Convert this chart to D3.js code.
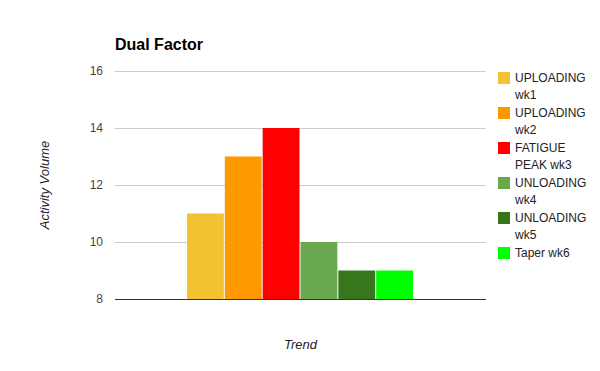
<!DOCTYPE html>
<html lang="en">
<head>
    <meta charset="UTF-8">
    <script src="https://cdnjs.cloudflare.com/ajax/libs/d3/7.8.5/d3.min.js"></script>
    <style>
        body { margin: 0; background: #fff; }
        text { font-family: Arial, "Liberation Sans", sans-serif; }
    </style>
</head>
<body>
<svg id="chart" width="600" height="371"></svg>
<script>
    const series = ['UPLOADING wk1', 'UPLOADING wk2', 'FATIGUE PEAK wk3', 'UNLOADING wk4', 'UNLOADING wk5', 'Taper wk6'];
    const values = [11, 13, 14, 10, 9, 9];
    const colors = ['#f1c232', '#ff9900', '#ff0000', '#6aa84f', '#38761d', '#00ff00'];
    const legendLines = [['UPLOADING', 'wk1'], ['UPLOADING', 'wk2'], ['FATIGUE', 'PEAK wk3'], ['UNLOADING', 'wk4'], ['UNLOADING', 'wk5'], ['Taper wk6']];
    const yTicks = [8, 10, 12, 14, 16];

    const svg = d3.select('#chart');
    const plotLeft = 115, plotRight = 486, plotTop = 71, plotBottom = 299;

    const y = d3.scaleLinear().domain([8, 16]).range([plotBottom, plotTop]);
    const x0 = d3.scaleBand().domain(['']).range([plotLeft, plotRight]).paddingOuter(0.317);
    const x1 = d3.scaleBand().domain(series).range([0, x0.bandwidth()]);

    // gridlines
    svg.append('g').selectAll('line')
        .data(yTicks.slice(1)).enter()
        .append('line')
        .attr('x1', plotLeft).attr('x2', plotRight)
        .attr('y1', d => y(d) + 0.5).attr('y2', d => y(d) + 0.5)
        .attr('stroke', '#cccccc');

    svg.append('g').selectAll('text')
        .data(yTicks).enter()
        .append('text')
        .attr('x', 103).attr('y', d => y(d) + 4)
        .attr('text-anchor', 'end')
        .style('font-size', '12px')
        .style('fill', '#444')
        .text(d => d);

    // bars
    svg.append('g').selectAll('rect')
        .data(values).enter()
        .append('rect')
        .attr('x', (d, i) => x0('') + x1(series[i]))
        .attr('y', d => y(d))
        .attr('width', x1.bandwidth() - 1)
        .attr('height', d => plotBottom - y(d))
        .attr('fill', (d, i) => colors[i]);

    // baseline
    svg.append('line')
        .attr('x1', plotLeft).attr('x2', plotRight)
        .attr('y1', plotBottom + 0.5).attr('y2', plotBottom + 0.5)
        .attr('stroke', '#333');

    svg.append('text')
        .attr('x', plotLeft).attr('y', 50)
        .style('font-size', '16px').style('font-weight', 'bold')
        .text('Dual Factor');

    svg.append('text')
        .attr('transform', 'translate(49,185)rotate(-90)')
        .attr('text-anchor', 'middle')
        .style('font-size', '13px').style('font-style', 'italic')
        .style('fill', '#222')
        .text('Activity Volume');

    svg.append('text')
        .attr('x', (plotLeft + plotRight) / 2).attr('y', 349)
        .attr('text-anchor', 'middle')
        .style('font-size', '13px').style('font-style', 'italic')
        .style('fill', '#222')
        .text('Trend');

    // legend
    const leg = svg.append('g').selectAll('g')
        .data(legendLines).enter()
        .append('g')
        .attr('transform', (d, i) => `translate(498,${72 + i * 35})`);

    leg.append('rect')
        .attr('width', 12).attr('height', 12)
        .attr('fill', (d, i) => colors[i]);

    leg.append('text')
        .style('font-size', '12px')
        .style('fill', '#222')
        .selectAll('tspan')
        .data(d => d).enter()
        .append('tspan')
        .attr('x', 17)
        .attr('y', (d, i) => 10 + i * 17)
        .text(d => d);
</script>
</body>
</html>
